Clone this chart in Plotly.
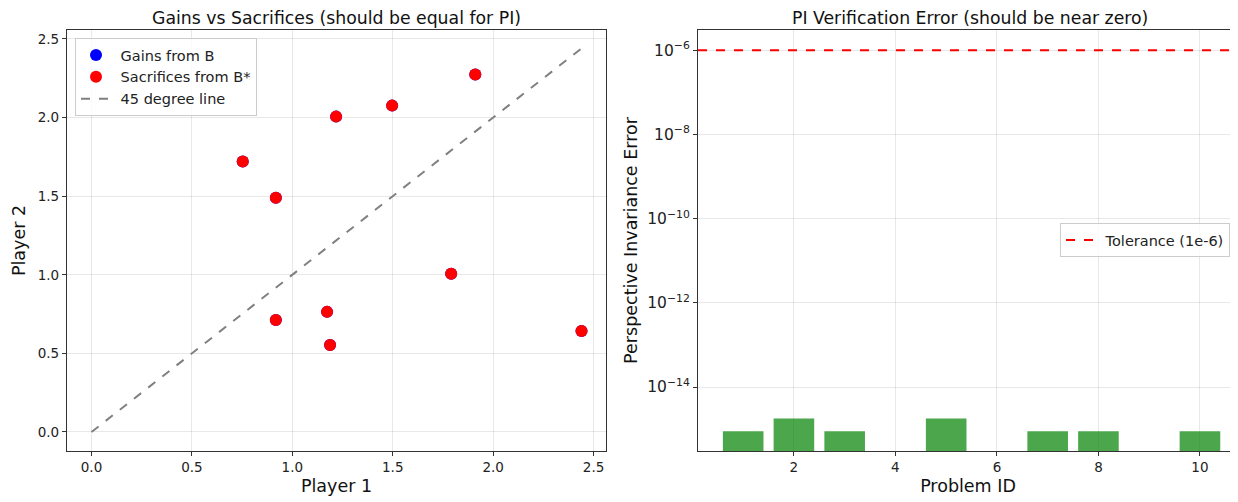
import plotly.graph_objects as go

# ---- data ----
gains_p1 = [0.753, 0.918, 0.918, 1.218, 1.173, 1.188, 1.497, 1.791, 1.911, 2.440]
gains_p2 = [1.720, 1.490, 0.713, 2.006, 0.764, 0.554, 2.076, 1.006, 2.274, 0.643]
sacr_p1 = list(gains_p1)
sacr_p2 = list(gains_p2)
problem_ids = [1, 2, 3, 4, 5, 6, 7, 8, 9, 10]
pi_errors = [8.88e-16, 1.78e-15, 8.88e-16, 0.0, 1.78e-15, 0.0, 8.88e-16, 8.88e-16, 0.0, 8.88e-16]
tolerance = 1e-6
log_tick_vals = [1e-14, 1e-12, 1e-10, 1e-8, 1e-6]
log_tick_text = ["10<sup>\u221214</sup>", "10<sup>\u221212</sup>", "10<sup>\u221210</sup>",
                 "10<sup>\u22128</sup>", "10<sup>\u22126</sup>"]

OFF = 8  # page body margin
W, H = 1238 - OFF, 502 - OFF
FONT = "DejaVu Sans"


def px(x):
    return (x - OFF) / W


def py(y):
    return 1 - (y - OFF) / H


max_val = max(max(gains_p1), max(gains_p2), max(sacr_p1), max(sacr_p2))

fig = go.Figure()

fig.add_trace(go.Scatter(x=gains_p1, y=gains_p2, mode="markers", name=" Gains from B",
                         marker=dict(color="blue", size=12), xaxis="x", yaxis="y"))
fig.add_trace(go.Scatter(x=sacr_p1, y=sacr_p2, mode="markers", name=" Sacrifices from B*",
                         marker=dict(color="red", size=12), xaxis="x", yaxis="y"))
fig.add_trace(go.Scatter(x=[0, max_val], y=[0, max_val], mode="lines", name=" 45 degree line",
                         line=dict(color="gray", dash="dash", width=2), xaxis="x", yaxis="y"))

bar_y = [v if v > 0 else None for v in pi_errors]
fig.add_trace(go.Bar(x=problem_ids, y=bar_y, width=0.8,
                     marker=dict(color="rgba(0,128,0,0.7)", line=dict(width=0)),
                     showlegend=False, xaxis="x2", yaxis="y2"))
fig.add_trace(go.Scatter(x=[0.11, 10.89], y=[tolerance, tolerance], mode="lines", name=" Tolerance (1e-6)",
                         line=dict(color="red", dash="dash", width=2), xaxis="x2", yaxis="y2",
                         legend="legend2"))

axis_common = dict(showline=True, linecolor="#333", linewidth=1.2, mirror=True, ticks="outside",
                   ticklen=4, tickcolor="#333", showgrid=True, gridcolor="rgba(0,0,0,0.09)",
                   gridwidth=1, zeroline=False)
tickf = dict(size=13.5, color="#222", family=FONT)
labf = dict(size=17.5, family=FONT, color="#111")

x1d = [px(67), px(606)]
x2d = [px(698), 1.0]
yd = [py(451), py(30)]

fig.update_layout(
    width=W, height=H, margin=dict(l=0, r=0, t=0, b=0),
    plot_bgcolor="white", paper_bgcolor="white",
    font=dict(family=FONT, color="#222"),
    xaxis=dict(domain=x1d, range=[-0.122, 2.562], tickvals=[0, 0.5, 1, 1.5, 2, 2.5],
               ticktext=["0.0", "0.5", "1.0", "1.5", "2.0", "2.5"], tickfont=tickf,
               title=dict(text="Player 1", font=labf, standoff=5), anchor="y", **axis_common),
    yaxis=dict(domain=yd, range=[-0.121, 2.557], tickvals=[0, 0.5, 1, 1.5, 2, 2.5],
               ticktext=["0.0", "0.5", "1.0", "1.5", "2.0", "2.5"], tickfont=tickf,
               title=dict(text="Player 2", font=labf, standoff=7), anchor="x", **axis_common),
    xaxis2=dict(domain=x2d, range=[0.11, 10.75], tickvals=[2, 4, 6, 8, 10], tickfont=tickf,
                title=dict(text="Problem ID", font=labf, standoff=5), anchor="y2", **axis_common),
    yaxis2=dict(domain=yd, type="log", range=[-15.52, -5.52], tickvals=log_tick_vals, ticktext=log_tick_text,
                tickfont=dict(size=15.5, color="#222", family=FONT),
                title=dict(text="Perspective Invariance Error", font=labf, standoff=5),
                anchor="x2", **axis_common),
    legend=dict(x=px(75), y=py(38), xanchor="left", yanchor="top", bgcolor="rgba(255,255,255,0.8)",
                bordercolor="#ccc", borderwidth=1, font=dict(size=14.5, family=FONT), tracegroupgap=0,
                itemwidth=30),
    legend2=dict(x=px(1230), y=py(240), xanchor="right", yanchor="middle", bgcolor="rgba(255,255,255,0.8)",
                 bordercolor="#ccc", borderwidth=1, font=dict(size=14.5, family=FONT), itemwidth=30),
    annotations=[
        dict(text="Gains vs Sacrifices (should be equal for PI)", x=px(336.5), y=py(17.5), xref="paper",
             yref="paper", showarrow=False, font=dict(size=17.3, family=FONT, color="#111"),
             xanchor="center", yanchor="middle", borderpad=0),
        dict(text="PI Verification Error (should be near zero)", x=px(970), y=py(17.5), xref="paper",
             yref="paper", showarrow=False, font=dict(size=17.3, family=FONT, color="#111"),
             xanchor="center", yanchor="middle", borderpad=0),
    ],
    bargap=0.2,
)

fig.write_html("out.html")
